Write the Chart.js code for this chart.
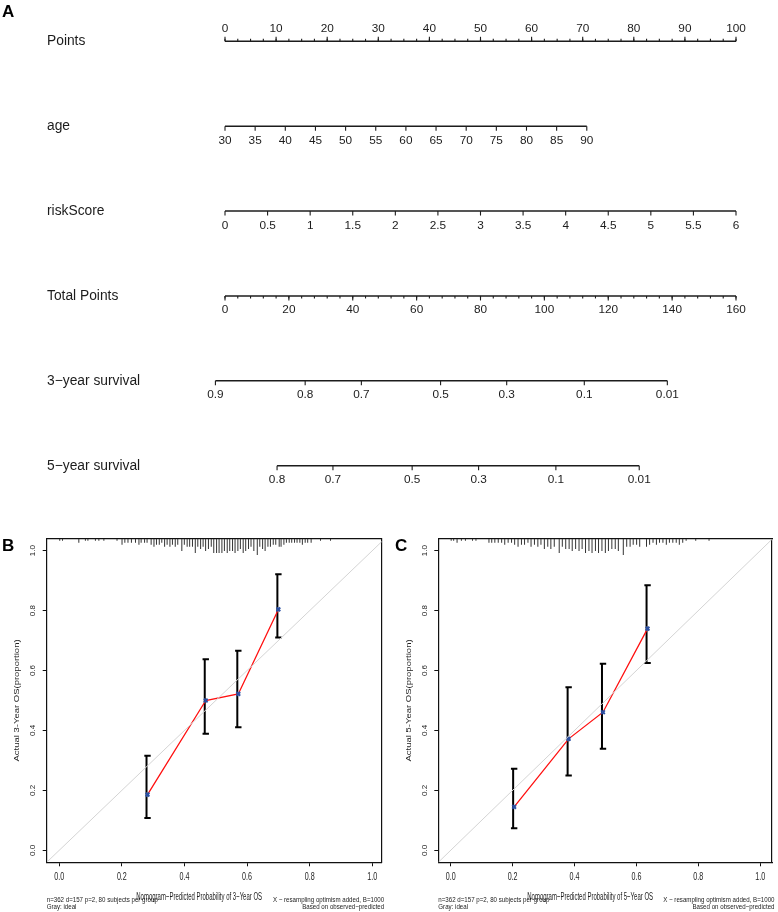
<!DOCTYPE html>
<html>
<head>
<meta charset="utf-8">
<script src="https://cdn.jsdelivr.net/npm/chart.js@4.4.0/dist/chart.umd.min.js"></script>
<style>
  html, body { margin: 0; padding: 0; background: #fff; }
  #wrap { position: relative; width: 778px; height: 912px; overflow: hidden; }
  canvas { position: absolute; }
</style>
</head>
<body>
<div id="wrap">
  <canvas id="nomo" width="778" height="505" style="left:0;top:0"></canvas>
  <canvas id="calB" width="389" height="384" style="left:0;top:528px"></canvas>
  <canvas id="calC" width="389" height="384" style="left:389px;top:528px"></canvas>
</div>
<script>
// ---------- nomogram (panel A) ----------
const rowNames = ['Points', 'age', 'riskScore', 'Total Points', '3\u2212year survival', '5\u2212year survival'];
const pointsTicks = [0, 10, 20, 30, 40, 50, 60, 70, 80, 90, 100];
const ageTicks = [30, 35, 40, 45, 50, 55, 60, 65, 70, 75, 80, 85, 90];
const ageSpan = [30, 90];
const agePointsSpan = [0, 70.8];
const riskTicks = [0, 0.5, 1, 1.5, 2, 2.5, 3, 3.5, 4, 4.5, 5, 5.5, 6];
const riskSpan = [0, 6];
const riskPointsSpan = [0, 100];
const totalTicks = [0, 20, 40, 60, 80, 100, 120, 140, 160];
// survival ticks sit at these total points
const surv3Labels = ['0.9', '0.8', '0.7', '0.5', '0.3', '0.1', '0.01'];
const surv3At = [-3.0, 25.1, 42.7, 67.5, 88.2, 112.5, 138.5];
const surv5Labels = ['0.8', '0.7', '0.5', '0.3', '0.1', '0.01'];
const surv5At = [16.3, 33.8, 58.6, 79.4, 103.6, 129.7];

// ---------- calibration (panels B, C) ----------
const calTicks = [0, 0.2, 0.4, 0.6, 0.8, 1.0];
const calTickLabels = ['0.0', '0.2', '0.4', '0.6', '0.8', '1.0'];

const cal3Pred = [0.282, 0.468, 0.572, 0.700];
const cal3Obs  = [0.186, 0.500, 0.522, 0.804];
const cal3Lo   = [0.108, 0.389, 0.411, 0.710];
const cal3Hi   = [0.316, 0.638, 0.666, 0.921];

const cal5Pred = [0.205, 0.381, 0.492, 0.636];
const cal5Obs  = [0.145, 0.372, 0.461, 0.740];
const cal5Lo   = [0.074, 0.250, 0.339, 0.625];
const cal5Hi   = [0.272, 0.544, 0.623, 0.885];

// spike histogram of predicted probabilities along the top
const rug3At = [0.000,0.009,0.061,0.082,0.090,0.114,0.125,0.141,0.183,0.199,0.208,0.218,0.229,0.242,0.253,0.260,0.271,0.279,0.292,0.301,0.309,0.318,0.326,0.335,0.343,0.352,0.360,0.369,0.377,0.390,0.398,0.407,0.415,0.424,0.433,0.441,0.450,0.458,0.466,0.475,0.484,0.492,0.501,0.509,0.518,0.526,0.535,0.543,0.552,0.560,0.569,0.577,0.586,0.594,0.603,0.611,0.620,0.631,0.639,0.648,0.656,0.665,0.673,0.682,0.690,0.701,0.707,0.716,0.724,0.733,0.741,0.750,0.758,0.767,0.775,0.784,0.792,0.803,0.833,0.865];
const rug3N  = [1,1,2,1,1,1,1,1,1,3,2,2,2,2,3,2,2,2,3,4,3,3,2,4,3,4,3,4,3,6,3,4,4,4,7,4,5,4,6,5,4,7,7,7,7,6,7,6,6,7,6,5,7,6,5,4,6,8,4,5,6,4,4,3,3,4,4,3,2,2,2,2,2,2,3,2,2,2,1,1];
const rug5At = [0.000,0.008,0.019,0.033,0.046,0.069,0.080,0.122,0.131,0.141,0.152,0.163,0.173,0.184,0.195,0.205,0.216,0.227,0.237,0.248,0.258,0.269,0.280,0.290,0.301,0.312,0.322,0.333,0.349,0.359,0.370,0.381,0.391,0.402,0.413,0.423,0.434,0.445,0.455,0.466,0.476,0.487,0.498,0.508,0.519,0.530,0.540,0.556,0.567,0.578,0.588,0.599,0.609,0.631,0.641,0.652,0.663,0.673,0.684,0.695,0.705,0.716,0.727,0.737,0.748,0.759,0.790,0.833];
const rug5N  = [1,1,2,1,1,1,1,2,2,2,2,2,3,2,2,3,4,3,3,2,4,3,4,3,5,4,5,4,7,4,5,5,6,5,6,5,7,6,7,6,7,6,7,6,5,5,6,8,4,4,3,3,4,4,3,2,3,2,2,3,2,2,2,3,2,1,1,1];

const FONT = '"Liberation Sans", Arial, Helvetica, sans-serif';
const INK = '#1c1c1c';
Chart.defaults.font.family = FONT;
Chart.defaults.color = INK;
Chart.defaults.animation = false;

function lin(v, from, to) {
  return to[0] + (v - from[0]) / (from[1] - from[0]) * (to[1] - to[0]);
}

function drawText(ctx, s, x, y, o) {
  ctx.save();
  ctx.translate(x, y);
  if (o.rot) ctx.rotate(o.rot);
  ctx.scale(o.sx || 1, o.sy || 1);
  ctx.font = (o.bold ? 'bold ' : '') + o.size + 'px ' + FONT;
  ctx.textAlign = o.align || 'center';
  ctx.textBaseline = 'middle';
  ctx.fillStyle = o.color || INK;
  ctx.fillText(s, 0, 0);
  ctx.restore();
}

const nomoRows = [
  { axis: 'x', at: pointsTicks, labels: pointsTicks.map(String), minorStep: 2.5, above: true },
  { axis: 'x', at: ageTicks.map(a => lin(a, ageSpan, agePointsSpan)), labels: ageTicks.map(String) },
  { axis: 'x', at: riskTicks.map(r => lin(r, riskSpan, riskPointsSpan)), labels: riskTicks.map(String) },
  { axis: 'xTot', at: totalTicks, labels: totalTicks.map(String), minorStep: 4 },
  { axis: 'xTot', at: surv3At, labels: surv3Labels },
  { axis: 'xTot', at: surv5At, labels: surv5Labels }
];

const nomoTicks = {
  id: 'nomoTicks',
  afterDatasetsDraw(chart) {
    const ctx = chart.ctx;
    const yS = chart.scales.y;
    ctx.save();
    ctx.strokeStyle = INK;
    ctx.lineWidth = 1.1;
    nomoRows.forEach((r, i) => {
      const xs = chart.scales[r.axis];
      const y = yS.getPixelForValue(i);
      const dir = r.above ? -1 : 1;
      if (r.minorStep) {
        const first = r.at[0], last = r.at[r.at.length - 1];
        for (let v = first; v <= last + 1e-9; v += r.minorStep) {
          const px = xs.getPixelForValue(v);
          ctx.beginPath(); ctx.moveTo(px, y); ctx.lineTo(px, y + dir * 2.5); ctx.stroke();
        }
      }
      r.at.forEach((v, k) => {
        const px = xs.getPixelForValue(v);
        ctx.beginPath(); ctx.moveTo(px, y); ctx.lineTo(px, y + dir * 4.5); ctx.stroke();
        drawText(ctx, r.labels[k], px, y + (r.above ? -12.6 : 14.3), { size: 11.8 });
      });
    });
    drawText(ctx, 'A', 2, 12, { size: 17, bold: true, align: 'left', color: '#000' });
    ctx.restore();
  }
};

new Chart(document.getElementById('nomo'), {
  type: 'scatter',
  data: {
    datasets: nomoRows.map((r, i) => ({
      type: 'line',
      xAxisID: r.axis,
      data: [{ x: r.at[0], y: i }, { x: r.at[r.at.length - 1], y: i }],
      borderColor: INK,
      borderWidth: 1.4,
      pointRadius: 0,
      clip: false
    }))
  },
  options: {
    responsive: false,
    events: [],
    layout: { padding: { left: 47, right: 42, top: 41.3, bottom: 39.3 } },
    plugins: { legend: { display: false }, tooltip: { enabled: false } },
    scales: {
      x: { type: 'linear', min: 0, max: 100, display: false },
      xTot: { type: 'linear', min: 0, max: 160, display: false },
      y: {
        type: 'linear', min: 0, max: 5, reverse: true, position: 'left',
        grid: { display: false }, border: { display: false },
        ticks: { crossAlign: 'far', font: { size: 13.8 }, color: INK, callback: (v, i) => rowNames[i] },
        afterBuildTicks: s => { s.ticks = rowNames.map((_, i) => ({ value: i })); },
        afterFit: s => { s.width = 178; }
      }
    }
  },
  plugins: [nomoTicks]
});

// ---------- calibration plots ----------
const X_MIN = -0.04, Y_MIN = -0.04, Y_MAX = 1.04, RUG_UNIT = 0.0068;

const calText = {
  id: 'calText',
  afterDraw(chart, args, o) {
    const { ctx, chartArea: a } = chart;
    const x = chart.scales.x, y = chart.scales.y;
    calTicks.forEach((v, i) => {
      drawText(ctx, calTickLabels[i], x.getPixelForValue(v), a.bottom + 15, { size: 10.5, sx: 0.68 });
      drawText(ctx, calTickLabels[i], a.left - 13.5, y.getPixelForValue(v), { size: 8, rot: -Math.PI / 2, sy: 0.85 });
    });
    drawText(ctx, o.yTitle, a.left - 29.5, (a.top + a.bottom) / 2, { size: 9.5, rot: -Math.PI / 2, sy: 0.75 });
    drawText(ctx, o.subLeft[0], a.left, a.bottom + 38, { size: 7, sx: 0.88, align: 'left' });
    drawText(ctx, o.subLeft[1], a.left, a.bottom + 45, { size: 7, sx: 0.88, align: 'left' });
    drawText(ctx, o.subRight[0], a.right + 2.5, a.bottom + 38, { size: 7, sx: 0.88, align: 'right' });
    drawText(ctx, o.subRight[1], a.right + 2.5, a.bottom + 45, { size: 7, sx: 0.88, align: 'right' });
    drawText(ctx, o.xTitle, (a.left + a.right) / 2 - 15, a.bottom + 34.5, { size: 10, sx: 0.6 });
    drawText(ctx, o.letter, o.letterX, 18, { size: 17, bold: true, align: 'left', color: '#000' });
  }
};

function calChart(id, o) {
  const obs = o.pred.map((p, i) => ({ x: p, y: o.obs[i] }));
  const bars = o.pred.map((p, i) => ({ x: p, y: [o.lo[i], o.hi[i]] }));
  const caps = o.pred.flatMap((p, i) => [{ x: p, y: o.lo[i] }, { x: p, y: o.hi[i] }]);
  const rug = o.rugAt.map((p, i) => ({ x: p, y: [Y_MAX - o.rugN[i] * RUG_UNIT, Y_MAX] }));
  const ideal = [{ x: X_MIN, y: X_MIN }, { x: Y_MAX, y: Y_MAX }];
  const frame = { display: true, color: '#111', width: 1.2 };
  const tickGrid = { display: true, drawOnChartArea: false, drawTicks: true, tickLength: 4, tickColor: '#111', tickWidth: 1, offset: false };

  new Chart(document.getElementById(id), {
    type: 'scatter',
    data: {
      datasets: [
        { type: 'line', data: ideal, borderColor: '#d4d4d4', borderWidth: 1, pointRadius: 0, order: 1 },
        { type: 'scatter', data: obs, pointStyle: 'crossRot', radius: 2.6, borderColor: '#2a4fa3', borderWidth: 2, order: 2 },
        { type: 'line', data: obs, borderColor: '#ff1010', borderWidth: 1.3, pointRadius: 0, order: 3 },
        { type: 'scatter', data: caps, pointStyle: 'line', radius: 3.2, borderColor: '#000', borderWidth: 2, order: 4 },
        { type: 'bar', data: bars, backgroundColor: '#000', barThickness: 2, inflateAmount: 0, order: 5 },
        { type: 'bar', xAxisID: 'xr', data: rug, backgroundColor: '#333', barThickness: 1, inflateAmount: 0, order: 6 }
      ]
    },
    options: {
      responsive: false,
      events: [],
      layout: { padding: { left: 0, right: o.padRight, top: 10.7, bottom: 0 } },
      plugins: { legend: { display: false }, tooltip: { enabled: false }, calText: o },
      scales: {
        x: {
          type: 'linear', position: 'bottom', min: X_MIN, max: o.xMax, offset: false,
          grid: tickGrid, border: frame, ticks: { display: false },
          afterBuildTicks: s => { s.ticks = calTicks.map(v => ({ value: v })); },
          afterFit: s => { s.height = 49.7; }
        },
        xr: { type: 'linear', min: X_MIN, max: o.xMax, offset: false, display: false, grid: { offset: false } },
        y: {
          type: 'linear', position: 'left', min: Y_MIN, max: Y_MAX,
          grid: tickGrid, border: frame, ticks: { display: false },
          afterBuildTicks: s => { s.ticks = calTicks.map(v => ({ value: v })); },
          afterFit: s => { s.width = o.yAxisWidth; }
        },
        xTop: {
          type: 'linear', position: 'top', min: 0, max: 1,
          grid: { display: false }, border: frame, ticks: { display: false },
          afterFit: s => { s.height = 0; }
        },
        yRight: {
          type: 'linear', position: 'right', min: 0, max: 1,
          grid: { display: false }, border: frame, ticks: { display: false },
          afterFit: s => { s.width = 0; }
        }
      }
    },
    plugins: [calText]
  });
}

calChart('calB', {
  pred: cal3Pred, obs: cal3Obs, lo: cal3Lo, hi: cal3Hi, rugAt: rug3At, rugN: rug3N,
  xMax: 1.03, yAxisWidth: 46.7, padRight: 7.3, letter: 'B', letterX: 2,
  yTitle: 'Actual 3-Year OS(proportion)',
  xTitle: 'Nomogram\u2212Predicted Probability of 3\u2212Year OS',
  subLeft: ['n=362 d=157 p=2, 80 subjects per group', 'Gray: ideal'],
  subRight: ['X \u2212 resampling optimism added, B=1000', 'Based on observed\u2212predicted']
});

calChart('calC', {
  pred: cal5Pred, obs: cal5Obs, lo: cal5Lo, hi: cal5Hi, rugAt: rug5At, rugN: rug5N,
  xMax: 1.038, yAxisWidth: 49.3, padRight: 2, letter: 'C', letterX: 6,
  yTitle: 'Actual 5-Year OS(proportion)',
  xTitle: 'Nomogram\u2212Predicted Probability of 5\u2212Year OS',
  subLeft: ['n=362 d=157 p=2, 80 subjects per group', 'Gray: ideal'],
  subRight: ['X \u2212 resampling optimism added, B=1000', 'Based on observed\u2212predicted']
});
</script>
</body>
</html>
